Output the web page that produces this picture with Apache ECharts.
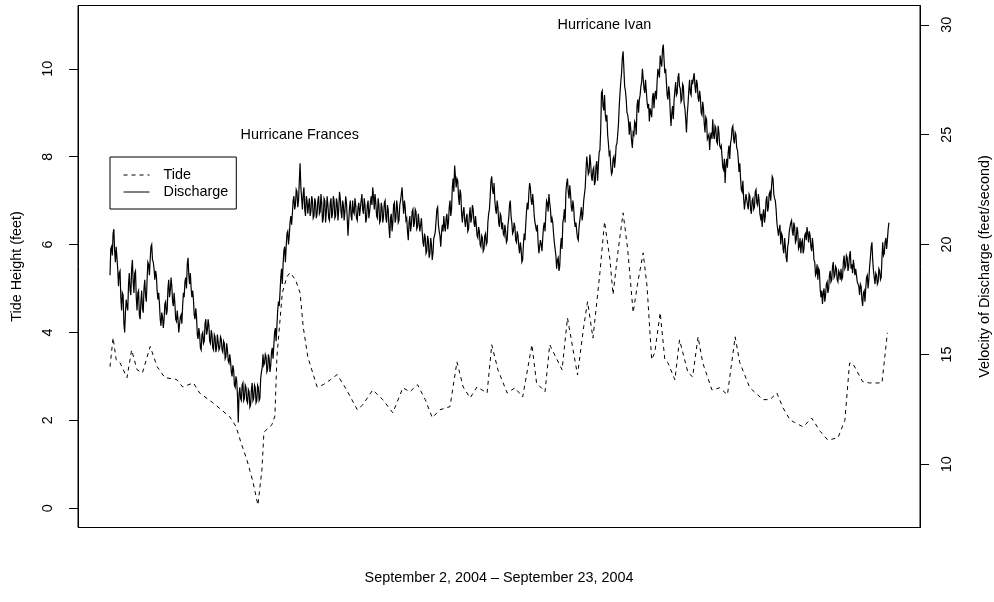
<!DOCTYPE html>
<html>
<head>
<meta charset="utf-8">
<title>Tide and Discharge, September 2004</title>
<script src="https://cdn.jsdelivr.net/npm/echarts@6/dist/echarts.min.js"></script>
<style>
  html, body { margin: 0; padding: 0; background: #ffffff; }
  #chart { width: 994px; height: 602px; }
</style>
</head>
<body>
<div id="chart"></div>
<script>
// Tide height (feet), hours since the start of September 2, 2004
const tideHours = [
  0, 2, 4, 6.5, 11, 14, 17.5, 21, 26, 30.5, 35.5, 43, 47, 54, 58, 66.5, 77.5, 81.5, 84.7, 88.6,
  92.5, 95.7, 98.3, 99.6, 104.8, 106.7, 108, 111.5, 114.5, 116.5, 120, 123, 125, 128, 134, 138,
  142.5, 147, 153, 160, 163.5, 170, 176.5, 183, 189.5, 194, 199, 204, 208.5, 213.5, 220, 224.5,
  228.5, 233, 237.5, 244, 247, 251, 257, 262, 267, 273, 276, 281.5, 284.5, 292.5, 296, 302.5,
  306.5, 309, 312.5, 317, 320, 323.5, 325.5, 328.5, 332, 335, 338.5, 341.5, 345, 347.5, 350.5,
  352.5, 356, 359, 361, 365.5, 368.5, 374, 377, 380.5, 383.5, 389.5, 394.5, 399.5, 404.5, 407.5,
  414, 422.5, 427, 431.5, 435.5, 440, 443, 448.5, 454, 459.5, 464.5, 471, 475.5, 478.5, 480.5,
  487, 491.5, 499.5, 503
];
const tideFeet = [
  3.22, 3.88, 3.38, 3.31, 2.97, 3.60, 3.15, 3.08, 3.68, 3.22, 2.97, 2.93, 2.76, 2.85, 2.62, 2.40, 2.08, 1.86, 1.50, 1.10,
  0.60, 0.07, 0.87, 1.73, 1.90, 2.10, 3.44, 4.90, 5.27, 5.36, 5.20, 4.90, 4.13, 3.44, 2.76, 2.81,
  2.92, 3.04, 2.70, 2.24, 2.35, 2.69, 2.47, 2.17, 2.74, 2.65, 2.81, 2.47, 2.06, 2.24, 2.31, 3.33,
  2.76, 2.51, 2.76, 2.62, 3.72, 3.15, 2.62, 2.74, 2.53, 3.72, 2.85, 2.65, 3.72, 3.15, 4.33, 3.03,
  4.13, 4.70, 3.87, 5.36, 6.52, 5.65, 4.86, 5.79, 6.72, 5.88, 4.45, 5.14, 5.81, 5.04, 3.38,
  3.54, 4.45, 3.38, 3.31, 2.92, 3.83, 3.08, 2.99, 3.90, 3.31, 2.69, 2.74, 2.58, 3.90, 3.31,
  2.74, 2.47, 2.47, 2.62, 2.28, 2.01, 1.95, 1.85, 2.05, 1.75, 1.55, 1.60, 2.00, 3.30, 3.30,
  2.88, 2.85, 2.85, 3.99
];

// Velocity of discharge (feet/second): readings on the hour, from hour 0
const dischargeOnHour = [
  /* Sep 2  */ 18.6, 19.9, 20.5, 19.7, 19.9, 18.9, 18.7, 17.6, 17.8, 16.4, 16.9, 17.2, 18.2, 17.9, 18.9, 18.3, 18.7, 17.6, 17.8, 16.8, 17.4, 17.1, 18.0, 17.7,
  /* Sep 3  */ 18.4, 19.1, 19.3, 20.0, 19.2, 18.4, 18.6, 17.5, 17.3, 16.3, 16.7, 16.6, 17.4, 17.0, 18.4, 17.9, 18.1, 17.2, 17.3, 16.5, 16.6, 16.0, 16.8, 17.2,
  /* Sep 4  */ 17.6, 18.5, 19.1, 18.6, 18.7, 17.6, 17.5, 16.6, 16.7, 15.7, 15.9, 15.2, 16.0, 15.6, 16.6, 16.1, 16.3, 15.5, 15.9, 15.2, 15.8, 15.3, 15.9, 15.3,
  /* Sep 5  */ 15.7, 15.1, 15.5, 14.9, 15.2, 14.6, 14.7, 14.0, 14.3, 13.5, 13.8, 11.9, 13.5, 12.9, 13.7, 13.0, 13.5, 12.8, 13.3, 12.7, 13.7, 13.0, 13.5, 12.9,
  /* Sep 6  */ 13.5, 13.0, 14.2, 15.0, 14.6, 14.9, 14.3, 14.8, 14.5, 15.3, 15.4, 16.2, 16.3, 17.4, 17.8, 18.9, 19.1, 19.9, 19.9, 20.6, 20.4, 21.3, 21.4, 22.2,
  /* Sep 7  */ 21.8, 22.4, 22.0, 23.7, 22.1, 22.3, 21.6, 22.2, 21.4, 22.1, 21.5, 22.0, 21.3, 21.9, 21.4, 22.2, 21.5, 21.9, 21.2, 22.0, 21.5, 21.8, 21.1, 22.1,
  /* Sep 8  */ 21.4, 22.0, 21.3, 21.9, 21.6, 22.1, 21.2, 21.8, 21.5, 21.9, 20.4, 21.7, 21.3, 22.0, 21.4, 21.8, 21.1, 21.9, 21.3, 22.3, 21.4, 21.8, 21.2, 22.0,
  /* Sep 9  */ 21.5, 22.2, 22.6, 21.6, 21.9, 21.2, 21.8, 21.1, 21.7, 21.3, 22.0, 21.0, 21.6, 20.3, 21.4, 21.0, 21.9, 21.2, 21.7, 21.1, 22.0, 22.6, 21.4, 21.7,
  /* Sep 10 */ 21.2, 20.2, 21.3, 20.9, 21.6, 21.0, 21.5, 20.8, 21.4, 20.9, 20.6, 19.9, 20.3, 19.7, 20.2, 19.6, 20.0, 19.6, 20.4, 21.1, 21.7, 20.6, 19.9, 20.9,
  /* Sep 11 */ 21.3, 20.6, 21.4, 21.0, 22.0, 21.6, 23.0, 23.6, 22.6, 22.9, 21.8, 22.3, 21.0, 21.7, 20.8, 21.4, 20.7, 21.7, 21.2, 21.6, 20.8, 20.9, 20.3, 20.6,
  /* Sep 12 */ 19.9, 20.3, 19.8, 20.5, 20.1, 21.4, 22.2, 23.1, 22.3, 22.0, 21.4, 21.7, 20.8, 21.3, 21.0, 20.4, 20.6, 20.2, 21.2, 22.0, 21.0, 20.6, 20.8, 20.1,
  /* Sep 13 */ 20.4, 19.6, 19.8, 19.3, 20.5, 20.9, 21.9, 22.3, 22.6, 21.8, 21.9, 21.0, 20.6, 20.1, 19.6, 20.0, 20.3, 21.0, 21.4, 21.9, 22.3, 21.6, 21.2, 20.5,
  /* Sep 14 */ 19.8, 18.9, 19.4, 19.0, 20.3, 21.0, 21.6, 22.4, 23.0, 22.1, 22.3, 21.5, 21.7, 20.8, 20.6, 20.2, 21.1, 21.7, 21.4, 22.3, 23.4, 24.0, 23.3, 23.7,
  /* Sep 15 */ 22.9, 23.5, 22.9, 23.8, 23.6, 24.3, 26.9, 26.3, 26.8, 25.6, 25.0, 24.1, 23.6, 23.3, 24.0, 23.9, 24.6, 25.5, 26.9, 27.8, 28.8, 27.2, 26.6, 25.9,
  /* Sep 16 */ 25.0, 25.2, 24.4, 25.0, 25.5, 26.3, 26.0, 26.8, 27.4, 28.0, 26.9, 27.0, 26.2, 25.6, 26.0, 26.7, 26.2, 27.0, 27.4, 28.0, 28.6, 28.1, 29.1, 27.8,
  /* Sep 17 */ 27.4, 26.6, 26.9, 25.4, 26.3, 26.6, 27.4, 26.9, 27.8, 27.1, 26.6, 27.2, 26.2, 25.1, 26.4, 27.5, 26.8, 27.3, 27.8, 26.9, 27.3, 26.5, 26.7, 25.9,
  /* Sep 18 */ 26.2, 25.1, 25.7, 24.9, 24.3, 25.1, 25.7, 24.8, 25.3, 24.6, 25.1, 24.4, 24.0, 23.4, 22.8, 23.9, 24.2, 23.9, 24.8, 25.4, 24.6, 25.0, 24.3, 23.3,
  /* Sep 19 */ 23.0, 22.4, 22.1, 21.6, 22.3, 21.6, 22.2, 21.4, 22.1, 21.7, 22.5, 21.8, 22.0, 21.2, 20.8, 21.6, 21.3, 22.2, 21.7, 22.4, 22.6, 23.0, 22.1, 21.6,
  /* Sep 20 */ 21.0, 20.7, 20.0, 20.4, 19.6, 19.9, 19.2, 20.1, 20.6, 21.1, 20.4, 20.8, 20.2, 20.6, 19.9, 19.6, 20.2, 19.8, 20.5, 20.8, 20.1, 20.4, 19.7, 19.9,
  /* Sep 21 */ 19.2, 18.7, 18.4, 18.8, 17.6, 17.3, 18.0, 17.7, 18.3, 18.0, 18.8, 18.4, 19.2, 18.6, 18.9, 18.3, 18.7, 18.9, 18.5, 19.5, 19.0, 19.4, 19.0, 19.7,
  /* Sep 22 */ 19.1, 19.3, 18.6, 18.9, 18.2, 17.7, 18.1, 17.2, 17.9, 18.0, 18.6, 18.4, 19.4, 20.1, 18.8, 18.2, 18.6, 18.3, 18.8, 18.5, 20.1, 19.6, 20.3, 20.2,
  /* Sep 23 */ 21.0
];

// Velocity of discharge (feet/second): readings on the half hour, from hour 0.5
const dischargeHalfHour = [
  /* Sep 2  */ 19.8, 19.5, 20.7, 19.2, 19.9, 18.1, 18.8, 17.0, 17.7, 16.0, 17.5, 17.0, 18.7, 17.7, 19.3, 17.8, 18.8, 17.0, 17.9, 16.6, 17.9, 16.9, 18.4, 17.4,
  /* Sep 3  */ 19.2, 18.6, 19.9, 19.3, 18.9, 18.8, 17.9, 17.8, 16.6, 16.9, 16.2, 17.3, 16.8, 18.0, 17.6, 18.5, 17.4, 17.8, 16.6, 17.0, 16.0, 16.7, 16.4, 17.8,
  /* Sep 4  */ 18.3, 18.0, 19.4, 18.2, 18.0, 17.9, 16.8, 17.1, 15.9, 16.2, 15.3, 15.9, 15.5, 16.4, 15.9, 16.6, 15.6, 16.1, 15.3, 15.9, 15.1, 15.9, 15.2, 15.8,
  /* Sep 5  */ 15.2, 15.6, 14.8, 15.5, 14.7, 15.0, 14.2, 14.5, 13.6, 14.0, 13.1, 13.2, 13.0, 13.6, 12.9, 13.6, 12.9, 13.4, 12.6, 13.4, 12.9, 13.6, 12.8, 13.6,
  /* Sep 6  */ 12.9, 13.9, 14.4, 14.5, 15.0, 14.2, 15.0, 14.2, 15.1, 14.8, 16.0, 15.6, 17.0, 17.2, 18.5, 18.2, 19.7, 19.2, 20.5, 20.0, 21.0, 20.9, 22.0, 21.6,
  /* Sep 7  */ 22.5, 21.7, 22.9, 22.6, 21.6, 22.6, 21.3, 22.0, 21.8, 21.3, 22.2, 21.2, 22.1, 21.2, 22.0, 21.4, 22.3, 21.0, 22.1, 21.0, 22.2, 21.2, 21.9, 21.2,
  /* Sep 8  */ 22.2, 21.2, 22.1, 21.1, 22.4, 21.5, 22.0, 21.1, 22.2, 21.2, 21.1, 22.0, 21.1, 21.5, 22.1, 21.2, 21.7, 21.3, 22.0, 21.6, 22.1, 21.0, 21.8, 21.2,
  /* Sep 9  */ 21.9, 21.8, 22.2, 22.3, 21.3, 22.1, 21.0, 21.9, 21.0, 21.9, 21.2, 21.8, 20.8, 21.2, 20.6, 21.8, 21.0, 22.0, 21.0, 21.8, 22.3, 21.9, 22.0, 21.1,
  /* Sep 10 */ 20.6, 21.0, 20.6, 21.5, 20.8, 21.6, 20.7, 21.4, 20.6, 21.2, 20.1, 20.5, 19.6, 20.4, 19.4, 20.3, 19.3, 20.3, 20.6, 21.6, 20.9, 20.4, 20.5, 20.6,
  /* Sep 11 */ 20.8, 21.2, 20.7, 21.7, 21.3, 22.6, 22.4, 23.1, 23.0, 22.2, 22.5, 21.4, 21.5, 21.1, 21.2, 20.6, 21.3, 21.0, 21.8, 21.0, 21.3, 20.4, 20.8, 20.0,
  /* Sep 12 */ 20.4, 19.7, 20.4, 20.0, 21.0, 21.6, 22.9, 22.5, 22.8, 21.6, 22.0, 21.0, 21.4, 20.7, 20.5, 20.9, 20.1, 20.9, 21.8, 21.3, 20.5, 21.0, 20.2, 20.6,
  /* Sep 13 */ 19.9, 20.1, 19.2, 20.0, 20.2, 21.5, 21.6, 22.8, 22.0, 22.3, 21.3, 21.0, 20.9, 19.6, 20.2, 19.7, 20.8, 20.6, 22.0, 21.5, 21.9, 21.0, 21.0, 20.1,
  /* Sep 14 */ 19.5, 19.3, 18.8, 19.9, 19.8, 21.2, 21.0, 22.8, 22.4, 22.7, 21.7, 22.0, 21.1, 21.0, 20.3, 20.8, 21.4, 21.1, 22.0, 22.6, 24.0, 23.2, 24.1, 23.1,
  /* Sep 15 */ 23.4, 22.7, 23.6, 22.9, 24.2, 25.2, 27.0, 26.1, 25.9, 25.9, 24.6, 24.2, 23.2, 23.9, 23.5, 24.5, 25.0, 26.3, 27.4, 28.5, 28.0, 27.0, 26.0, 25.6,
  /* Sep 16 */ 25.6, 24.7, 25.1, 25.6, 25.0, 26.6, 26.6, 27.2, 28.0, 27.1, 27.5, 26.5, 26.4, 26.2, 25.8, 26.9, 26.8, 26.6, 28.0, 27.6, 28.3, 28.9, 28.4, 28.0,
  /* Sep 17 */ 26.8, 27.2, 26.0, 26.0, 25.7, 27.0, 26.8, 27.6, 27.2, 26.5, 27.3, 26.4, 25.7, 25.9, 27.0, 26.9, 27.5, 27.6, 27.2, 27.5, 26.7, 27.0, 26.0, 26.5,
  /* Sep 18 */ 25.5, 25.8, 24.8, 25.0, 24.9, 24.8, 25.0, 25.4, 24.7, 25.4, 24.5, 24.5, 23.5, 23.9, 23.6, 23.5, 24.5, 24.6, 25.3, 24.8, 25.1, 24.4, 23.9, 23.7,
  /* Sep 19 */ 22.5, 22.9, 21.6, 22.3, 21.8, 22.3, 21.6, 22.0, 21.6, 22.4, 21.9, 22.3, 21.4, 21.4, 21.4, 21.0, 22.0, 21.5, 22.3, 22.0, 23.1, 22.3, 22.0, 21.0,
  /* Sep 20 */ 20.4, 20.9, 20.5, 19.8, 20.3, 19.4, 19.9, 20.6, 21.0, 20.6, 21.0, 20.1, 20.8, 19.8, 20.3, 20.1, 19.6, 20.4, 20.2, 20.5, 20.6, 19.9, 20.3, 19.3,
  /* Sep 21 */ 18.6, 19.1, 18.9, 18.0, 17.9, 17.8, 17.4, 18.2, 17.8, 18.6, 18.3, 19.0, 18.5, 19.0, 18.4, 18.8, 18.4, 18.4, 19.2, 18.9, 19.5, 18.8, 19.5, 18.9,
  /* Sep 22 */ 18.7, 19.0, 18.9, 18.3, 18.1, 18.2, 17.5, 17.8, 17.4, 18.5, 18.0, 19.0, 19.9, 19.3, 18.5, 18.7, 18.2, 18.9, 18.4, 19.4, 19.5, 20.1, 19.8, 20.7
];

const tideTicks = [0, 2, 4, 6, 8, 10];
const velocityTicks = [10, 15, 20, 25, 30];

const stormNames = ['Hurricane Frances', 'Hurricane Ivan'];
const stormHours = [122.8, 319.9];
const stormFeet = [8.5, 11.0];

const FONT = '"Liberation Sans", Arial, Helvetica, sans-serif';
const FS = 14.4;

const tideData = tideHours.map((h, i) => [h, tideFeet[i]]);

// interleave on-the-hour and half-hour readings into one time series
const dischargeData = [];
dischargeOnHour.forEach((v, i) => {
  dischargeData.push([i, v]);
  if (i < dischargeHalfHour.length) dischargeData.push([i + 0.5, dischargeHalfHour[i]]);
});

const chart = echarts.init(document.getElementById('chart'), null, { renderer: 'canvas' });

chart.setOption({
  backgroundColor: '#ffffff',
  animation: false,
  textStyle: { fontFamily: FONT, color: '#000' },
  grid: {
    left: 78, right: 74, top: 5.5, bottom: 74.5,
    outerBoundsMode: 'none',
    containLabel: false,
    show: true, borderColor: '#000', borderWidth: 1, backgroundColor: 'transparent'
  },
  legend: {
    left: 110, top: 157,
    orient: 'vertical',
    itemWidth: 26, itemHeight: 14, itemGap: 3,
    padding: [11, 8, 10, 13],
    borderColor: '#000', borderWidth: 1, borderRadius: 0,
    backgroundColor: '#fff',
    // line samples only, no marker dot
    itemStyle: { opacity: 0 },
    lineStyle: { width: 1 },
    textStyle: { fontFamily: FONT, fontSize: FS, color: '#000', padding: [0, 0, 0, 9] },
    data: ['Tide', 'Discharge']
  },
  xAxis: {
    type: 'value',
    min: -20.7, max: 524.1,
    axisLine: { show: false },
    axisTick: { show: false },
    axisLabel: { show: false },
    splitLine: { show: false },
    name: 'September 2, 2004 \u2013 September 23, 2004',
    nameLocation: 'middle',
    nameGap: 44,
    nameTextStyle: { fontFamily: FONT, fontSize: FS, color: '#000' }
  },
  yAxis: [
    {
      type: 'value', position: 'left',
      min: -0.44, max: 11.44,
      axisLine: { show: true, onZero: false, lineStyle: { color: '#000', width: 1 } },
      axisTick: { show: true, length: 9, lineStyle: { color: '#000' }, customValues: tideTicks },
      axisLabel: {
        show: true, rotate: 90, margin: 23, customValues: tideTicks,
        fontFamily: FONT, fontSize: FS, color: '#000'
      },
      splitLine: { show: false },
      name: 'Tide Height (feet)',
      nameLocation: 'middle', nameRotate: 90, nameGap: 54,
      nameTextStyle: { fontFamily: FONT, fontSize: FS, color: '#000' }
    },
    {
      type: 'value', position: 'right',
      min: 7.12, max: 30.88,
      axisLine: { show: true, onZero: false, lineStyle: { color: '#000', width: 1 } },
      axisTick: { show: true, length: 9, lineStyle: { color: '#000' }, customValues: velocityTicks },
      axisLabel: {
        show: true, rotate: 90, margin: 20, customValues: velocityTicks,
        fontFamily: FONT, fontSize: FS, color: '#000'
      },
      splitLine: { show: false },
      name: 'Velocity of Discharge (feet/second)',
      nameLocation: 'middle', nameRotate: 90, nameGap: 58,
      nameTextStyle: { fontFamily: FONT, fontSize: FS, color: '#000' }
    }
  ],
  series: [
    {
      name: 'Tide',
      type: 'line',
      yAxisIndex: 0,
      data: tideData,
      showSymbol: false,
      symbol: 'none',
      lineStyle: { color: '#000', width: 1, type: [4, 4] },
      itemStyle: { color: '#000' },
      z: 3,
      markPoint: {
        symbol: 'circle', symbolSize: 0,
        label: {
          show: true, position: 'inside',
          fontFamily: FONT, fontSize: FS, color: '#000',
          formatter: p => p.name
        },
        data: stormNames.map((n, i) => ({ name: n, coord: [stormHours[i], stormFeet[i]] }))
      }
    },
    {
      name: 'Discharge',
      type: 'line',
      yAxisIndex: 1,
      data: dischargeData,
      showSymbol: false,
      symbol: 'none',
      sampling: null,
      lineStyle: { color: '#000', width: 1.2, join: 'miter', miterLimit: 6 },
      itemStyle: { color: '#000' },
      z: 4
    }
  ]
});
</script>
</body>
</html>
